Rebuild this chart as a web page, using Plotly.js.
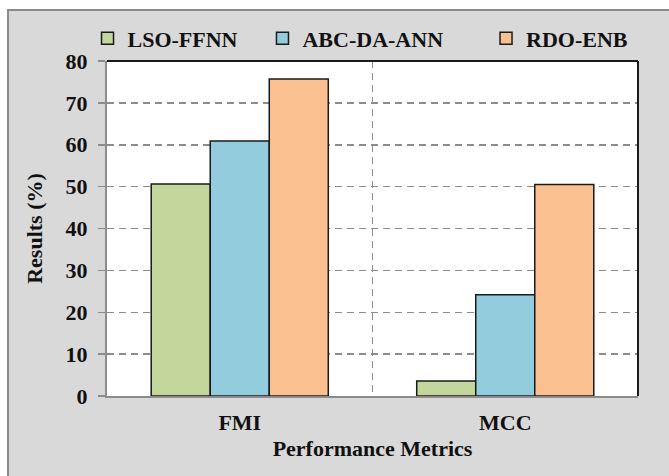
<!DOCTYPE html>
<html>
<head>
<meta charset="utf-8">
<script src="https://cdn.plot.ly/plotly-3.0.1.min.js"></script>
<style>
  html, body { margin: 0; padding: 0; background: #ffffff; }
  #wrap { position: relative; width: 669px; height: 476px; overflow: hidden; }
  #frame { position: absolute; left: 7px; top: 9px; width: 680px; height: 480px;
           background: #d9d9d9; border-left: 2px solid #8a8a8a; border-top: 2px solid #8a8a8a; }
  #chart { position: absolute; left: 0; top: 0; width: 669px; height: 476px; }
</style>
</head>
<body>
<div id="wrap">
  <div id="frame"></div>
  <div id="chart"></div>
</div>
<script>
const categories = ["FMI", "MCC"];
const seriesNames = ["LSO-FFNN", "ABC-DA-ANN", "RDO-ENB"];
const lsoFfnn = [50.6, 3.6];
const abcDaAnn = [60.9, 24.2];
const rdoEnb = [75.7, 50.5];
const yTicks = [0, 10, 20, 30, 40, 50, 60, 70, 80];

const colors = ["#c3d69b", "#93cddd", "#fac08f"];
const seriesValues = [lsoFfnn, abcDaAnn, rdoEnb];
const legendIds = ["legend", "legend2", "legend3"];
const FONT = "Liberation Serif, Times New Roman, serif";

const traces = seriesValues.map((vals, i) => ({
  type: "bar",
  name: seriesNames[i],
  x: categories,
  y: vals,
  legend: legendIds[i],
  marker: { color: colors[i], line: { color: "#1a1a1a", width: 1.5 } },
  hoverinfo: "x+y+name"
}));

const legendFont = { family: FONT, size: 22, color: "#111", weight: "bold" };
function mkLegend(x) {
  return { orientation: "h", x: x, xanchor: "left", y: 1.067, yanchor: "middle",
           bgcolor: "rgba(0,0,0,0)", font: legendFont, itemwidth: 30 };
}

const layout = {
  width: 669, height: 476,
  margin: { l: 107, r: 31, t: 61, b: 80, pad: 0 },
  paper_bgcolor: "rgba(0,0,0,0)",
  plot_bgcolor: "#ffffff",
  barmode: "group",
  bargap: 0.333,
  bargroupgap: 0,
  font: { family: FONT, size: 22, color: "#111", weight: "bold" },
  showlegend: true,
  legend: mkLegend(-0.0367),
  legend2: mkLegend(0.2928),
  legend3: mkLegend(0.7138),
  xaxis: {
    type: "category",
    tickson: "boundaries",
    showgrid: true, gridcolor: "#8c8c8c", gridwidth: 1.5, griddash: "7px,5px",
    ticks: "", showline: true, linecolor: "#8c8c8c", linewidth: 2,
    tickfont: { family: FONT, size: 22, color: "#111", weight: "bold" },
    ticklabelstandoff: 6,
    title: { text: "Performance Metrics", standoff: 6,
             font: { family: FONT, size: 22, color: "#111", weight: "bold" } },
    zeroline: false, fixedrange: true
  },
  yaxis: {
    range: [0, 80], tickvals: yTicks, ticktext: yTicks.map(String),
    showgrid: true, gridcolor: "#8c8c8c", gridwidth: 1.5, griddash: "7px,5px",
    ticks: "outside", ticklen: 7, tickcolor: "#8c8c8c", tickwidth: 1.5,
    showline: true, linecolor: "#8c8c8c", linewidth: 2,
    zeroline: false,
    tickfont: { family: FONT, size: 22, color: "#111", weight: "bold" },
    ticklabelstandoff: 6,
    title: { text: "Results (%)", standoff: 17,
             font: { family: FONT, size: 22, color: "#111", weight: "bold" } },
    fixedrange: true
  },
  shapes: [
    { type: "line", xref: "paper", yref: "paper", x0: 0, x1: 1, y0: 1, y1: 1,
      line: { color: "#1a1a1a", width: 2 } },
    { type: "line", xref: "paper", yref: "paper", x0: 1, x1: 1, y0: 0, y1: 1,
      line: { color: "#1a1a1a", width: 2 } }
  ]
};

Plotly.newPlot("chart", traces, layout, { displayModeBar: false, staticPlot: true });
</script>
</body>
</html>
